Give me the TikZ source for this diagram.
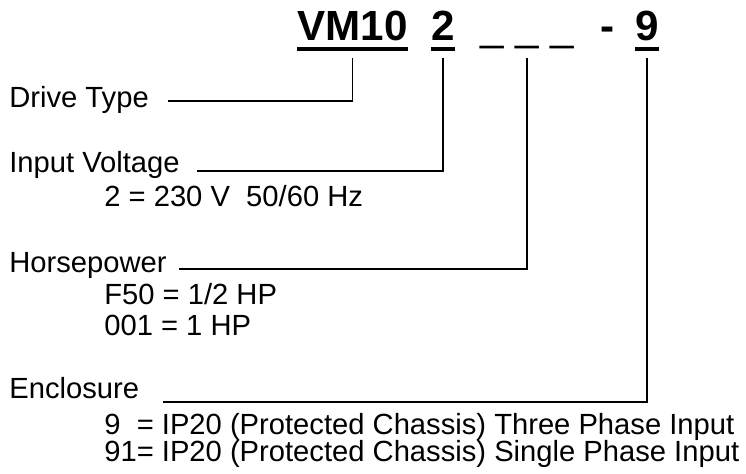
\documentclass[tikz,border=0pt]{standalone}
\usepackage{fontspec}
\setmainfont{Liberation Sans}
\usepackage{tikz}
\usetikzlibrary{positioning,calc}

\begin{document}
\begin{tikzpicture}[
  every node/.style={inner sep=0pt,anchor=base west},
  codepart/.style={font=\fontsize{24}{28}\selectfont\bfseries},
  codeblank/.style={font=\fontsize{24}{28}\selectfont},
  lbl/.style={font=\fontsize{16.6}{20}\selectfont},
  uline/.style={line width=2.3pt},
  lead/.style={line width=1pt}
]
\useasboundingbox (0,0) rectangle (14.92,9.48);

% Model code
\node[codepart]  (vm)    at (5.94,8.66)  {VM10};
\node[codepart]  (volt)  at (8.62,8.66)  {2};
\node[codeblank] (hp)    at (9.60,8.66)  {\_ \_ \_};
\node[codepart]  (dash)  at (12.00,8.66) {-};
\node[codepart]  (encl)  at (12.70,8.66) {9};

\foreach \n in {vm,volt,encl}
  \draw[uline] ([yshift=-0.16cm]\n.base west) -- ([yshift=-0.16cm]\n.base east);

% Labels
\node[lbl] (drive)   at (0.18,7.32) {Drive Type};
\node[lbl] (input)   at (0.18,6.02) {Input Voltage};
\node[lbl] (v230)    at (2.08,5.34) {2 = 230 V\ \ 50/60 Hz};
\node[lbl] (horse)   at (0.18,4.02) {Horsepower};
\node[lbl] (hpf50)   at (2.08,3.38) {F50 = 1/2 HP};
\node[lbl] (hp001)   at (2.08,2.76) {001 = 1 HP};
\node[lbl] (enclos)  at (0.18,1.50) {Enclosure};
\node[lbl] (ipthree) at (2.08,0.78) {9\ \ = IP20 (Protected Chassis) Three Phase Input};
\node[lbl] (ipsingle)at (2.08,0.24) {91= IP20 (Protected Chassis) Single Phase Input};

% Leaders
\draw[lead] ([yshift=-0.34cm]vm.base)   |- ([xshift=0.38cm,yshift=0.14cm]drive.base east);
\draw[lead] ([yshift=-0.34cm]volt.base) |- ([xshift=0.34cm,yshift=0.04cm]input.base east);
\draw[lead] ([yshift=-0.34cm]hp.base)   |- ([xshift=0.25cm,yshift=0.08cm]horse.base east);
\draw[lead] ([yshift=-0.34cm]encl.base) |- ([xshift=0.48cm,yshift=-0.06cm]enclos.base east);
\end{tikzpicture}
\end{document}
